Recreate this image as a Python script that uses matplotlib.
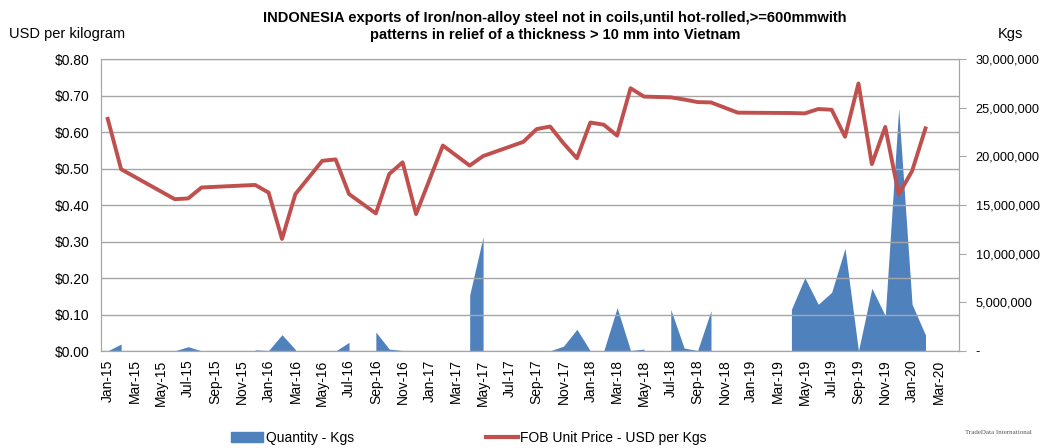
import numpy as np
import matplotlib.pyplot as plt
from matplotlib.patches import Patch
from matplotlib.lines import Line2D

plt.rcParams['font.family'] = ['Liberation Sans', 'DejaVu Sans']

# months Jan-15 .. Apr-20 (last two only carry axis labels)
years = ['15', '16', '17', '18', '19', '20']
mons = ['Jan', 'Feb', 'Mar', 'Apr', 'May', 'Jun', 'Jul', 'Aug', 'Sep', 'Oct', 'Nov', 'Dec']
months = [m + '-' + y for y in years for m in mons][:64]

# observed months: price (USD/kg) and quantity (kg)
obs_months = ['Jan-15', 'Feb-15', 'Jun-15', 'Jul-15', 'Aug-15', 'Dec-15',
              'Jan-16', 'Feb-16', 'Mar-16', 'May-16', 'Jun-16', 'Jul-16',
              'Sep-16', 'Oct-16', 'Nov-16', 'Dec-16', 'Feb-17', 'Apr-17',
              'May-17', 'Aug-17', 'Sep-17', 'Oct-17', 'Nov-17', 'Dec-17',
              'Jan-18', 'Feb-18', 'Mar-18', 'Apr-18', 'May-18', 'Jul-18',
              'Aug-18', 'Sep-18', 'Oct-18', 'Dec-18', 'Apr-19', 'May-19',
              'Jun-19', 'Jul-19', 'Aug-19', 'Sep-19', 'Oct-19', 'Nov-19',
              'Dec-19', 'Jan-20', 'Feb-20']
price = [0.636, 0.498, 0.416, 0.418, 0.448, 0.455,
         0.434, 0.307, 0.430, 0.521, 0.525, 0.430,
         0.377, 0.485, 0.517, 0.375, 0.563, 0.508,
         0.534, 0.573, 0.608, 0.615, 0.569, 0.528,
         0.626, 0.620, 0.590, 0.720, 0.697, 0.695,
         0.689, 0.682, 0.681, 0.653, 0.652, 0.651,
         0.663, 0.661, 0.587, 0.733, 0.512, 0.614,
         0.429, 0.493, 0.610]
qty = [20000, 720000, 20000, 440000, 20000, 120000,
       50000, 1680000, 150000, 10000, 10000, 890000,
       1950000, 200000, 50000, 20000, 10000, 5750000,
       11740000, 10000, 10000, 20000, 500000, 2230000,
       10000, 10000, 4450000, 50000, 200000, 4280000,
       300000, 50000, 4140000, 10000, 4280000, 7530000,
       4800000, 6030000, 10550000, 10000, 6440000, 3630000,
       24930000, 4800000, 1640000]

x_all = np.arange(len(months))
pr = np.full(len(months), np.nan)
qt = np.full(len(months), np.nan)
for m, p, q in zip(obs_months, price, qty):
    i = months.index(m)
    pr[i] = p
    qt[i] = q

fig = plt.figure(figsize=(10.49, 4.48), dpi=100)
ax = fig.add_axes([0.0963, 0.2165, 0.8179, 0.6518])
ax2 = ax.twinx()

# quantity area, gaps where a month has no record
ok = ~np.isnan(qt)
runs = []
start = None
for i in range(len(qt)):
    if ok[i] and start is None:
        start = i
    if (not ok[i]) and start is not None:
        runs.append((start, i))
        start = None
if start is not None:
    runs.append((start, len(qt)))
for a, b in runs:
    ax2.fill_between(x_all[a:b], 0, qt[a:b], color='#4f81bd', lw=0, zorder=1)

# price line (missing months are bridged)
ax.plot(x_all[~np.isnan(pr)], pr[~np.isnan(pr)], color='#c0504d', lw=2.8,
        solid_joinstyle='round', zorder=5)

ax.set_zorder(ax2.get_zorder() + 1)
ax.patch.set_visible(False)

ax.set_xlim(-0.5, len(months) - 0.5)
ax.set_ylim(0, 0.8)
ax.set_yticks(np.arange(0, 0.81, 0.1))
ax.set_yticklabels(['$%.2f' % v for v in np.arange(0, 0.81, 0.1)], fontsize=10)
ax.yaxis.grid(True, color='#a6a6a6', lw=1)
ax.set_axisbelow(True)
ax.tick_params(axis='y', length=0, pad=8)

ax.set_xticks(x_all[::2])
ax.set_xticklabels(months[::2], rotation=90, fontsize=10)
ax.tick_params(axis='x', length=0, pad=6)

ax2.set_ylim(0, 30000000)
ticks2 = np.arange(0, 30000001, 5000000)
ax2.set_yticks(ticks2)
ax2.set_yticklabels(['-'] + ['{:,}'.format(int(t)) for t in ticks2[1:]], fontsize=9.2)
ax2.tick_params(axis='y', length=5, color='#a6a6a6', pad=7)

for a in (ax, ax2):
    for s in a.spines.values():
        s.set_color('#a6a6a6')

fig.text(0.529, 0.975,
         'INDONESIA exports of Iron/non-alloy steel not in coils,until hot-rolled,>=600mmwith\n'
         'patterns in relief of a thickness > 10 mm into Vietnam',
         ha='center', va='top', fontsize=10.5, fontweight='bold', linespacing=1.3)
fig.text(0.009, 0.925, 'USD per kilogram', ha='left', va='center', fontsize=10.5)
fig.text(0.963, 0.925, 'Kgs', ha='center', va='center', fontsize=10.5)

handles = [Patch(color='#4f81bd'), Line2D([0], [0], color='#c0504d', lw=3)]
fig.legend(handles, ['Quantity - Kgs', 'FOB Unit Price - USD per Kgs'],
           loc='center', bbox_to_anchor=(0.447, 0.022), ncol=2, frameon=False,
           fontsize=10, columnspacing=9.5, handlelength=2.3, handletextpad=0.2)

fig.text(0.952, 0.035, 'TradeData International', ha='center', va='center',
         fontsize=5, color='#555555', family='Liberation Serif')

fig.savefig('out.png', dpi=100)
